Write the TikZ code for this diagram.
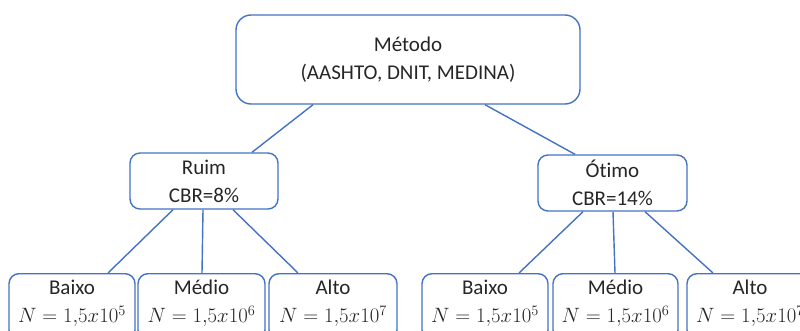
\documentclass[tikz,border=0pt]{standalone}
\usepackage{fontspec}
\setmainfont{Carlito}[Ligatures=NoCommon]
\usepackage{tikz}
\usetikzlibrary{positioning}
\definecolor{azul}{HTML}{4472C4}
\definecolor{texto}{HTML}{262626}

\begin{document}
\begin{tikzpicture}[x=1pt, y=-1pt,
    caixa/.style={draw=azul, line width=1.4pt, rounded corners=10pt, align=center, text=texto, inner sep=0pt, font=\fontsize{21}{28}\selectfont},
    folha/.style={caixa, anchor=north, minimum width=126pt, minimum height=66pt, text depth=10pt},
    liga/.style={draw=azul, line width=1.4pt}]
    \useasboundingbox (0,0) rectangle (800,331);
    \clip (0,0) rectangle (800,331);

    \node (metodo) [caixa, rounded corners=15pt, minimum width=344pt, minimum height=89pt] at (408,59.5) {Método\\(AASHTO, DNIT, MEDINA)};
    \node (ruim) [caixa, minimum width=148pt, minimum height=56pt] at (204,181) {Ruim\\CBR=8\%};
    \node (otimo) [caixa, minimum width=149pt, minimum height=56pt] at (612.5,183) {Ótimo\\CBR=14\%};

    \node (baixo1) [folha] at (72,273) {Baixo\\$N=1{,}5x10^5$};
    \node (medio1) [folha, minimum width=127pt] at (201.5,273) {Médio\\$N=1{,}5x10^6$};
    \node (alto1) [folha, minimum width=128pt] at (333,273) {Alto\\$N=1{,}5x10^7$};
    \node (baixo2) [folha] at (485,273) {Baixo\\$N=1{,}5x10^5$};
    \node (medio2) [folha, minimum width=125pt] at (615.5,273) {Médio\\$N=1{,}5x10^6$};
    \node (alto2) [folha] at (750,273) {Alto\\$N=1{,}5x10^7$};

    \draw[liga] ([xshift=-95pt]metodo.south) -- ([xshift=48pt]ruim.north);
    \draw[liga] ([xshift=77pt]metodo.south) -- ([xshift=-37.5pt]otimo.north);

    \draw[liga] ([xshift=-31pt]ruim.south) -- ([xshift=36pt]baixo1.north);
    \draw[liga] ([xshift=-1pt]ruim.south) -- ([xshift=0.5pt]medio1.north);
    \draw[liga] ([xshift=29pt]ruim.south) -- ([xshift=-35pt]alto1.north);

    \draw[liga] ([xshift=-29.5pt]otimo.south) -- ([xshift=34pt]baixo2.north);
    \draw[liga] ([xshift=0.5pt]otimo.south) -- ([xshift=-0.5pt]medio2.north);
    \draw[liga] ([xshift=32.5pt]otimo.south) -- ([xshift=-37pt]alto2.north);
\end{tikzpicture}
\end{document}
